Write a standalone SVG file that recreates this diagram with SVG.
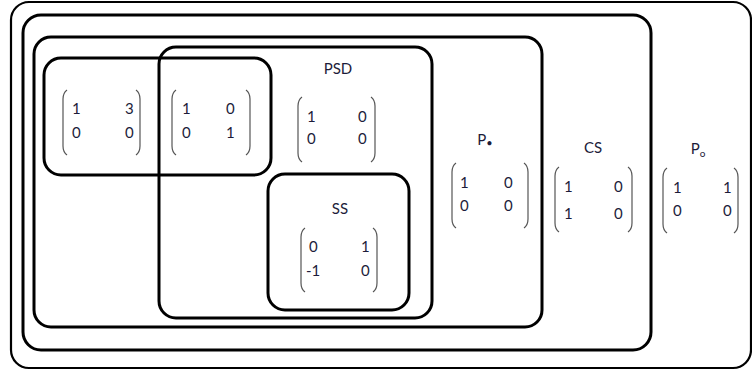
<svg xmlns="http://www.w3.org/2000/svg" width="752" height="372" viewBox="0 0 752 372">
<style>
.box{fill:none;stroke:#000;stroke-width:3}
.thin{fill:none;stroke:#000;stroke-width:2.2}
.br{fill:none;stroke:#555;stroke-width:1.2}
text{font-family:Lato,"Open Sans","Liberation Sans",sans-serif;font-size:15px;fill:#1c1c3a}
.lab{text-anchor:middle}
</style>
<rect width="752" height="372" fill="#fff"/>
<g id="outer"><rect class="thin" x="11" y="2" width="740" height="366" rx="18"/></g>
<g id="level2"><rect class="box" x="23" y="15" width="628" height="335" rx="18"/></g>
<g id="level3"><rect class="box" x="34" y="37" width="508" height="290" rx="17"/></g>
<g id="psd"><rect class="box" x="159" y="47" width="273" height="271" rx="17"/>
<text class="lab" x="338" y="74">PSD</text>
<path class="br" d="M302,97 Q298,100 298,106 L298,153 Q298,159 302,162 M371,97 Q375,100 375,106 L375,153 Q375,159 371,162"/>
<text x="307" y="122">1</text><text x="358" y="122">0</text>
<text x="307" y="144">0</text><text x="358" y="144">0</text>
</g>
<g id="topbox"><rect class="box" x="44" y="58" width="227" height="117" rx="17"/>
<path class="br" d="M67,90 Q63,93 63,99 L63,146 Q63,152 67,155 M136,90 Q140,93 140,99 L140,146 Q140,152 136,155"/>
<text x="72" y="114">1</text><text x="125" y="114">3</text>
<text x="72" y="138">0</text><text x="125" y="138">0</text>
<path class="br" d="M176,90 Q172,93 172,99 L172,146 Q172,152 176,155 M246,90 Q250,93 250,99 L250,146 Q250,152 246,155"/>
<text x="182" y="114">1</text><text x="226" y="114">0</text>
<text x="182" y="138">0</text><text x="226" y="138">1</text>
</g>
<g id="ss"><rect class="box" x="268" y="174" width="141" height="136" rx="17"/>
<text class="lab" x="340" y="214">SS</text>
<path class="br" d="M305,228 Q301,231 301,237 L301,283 Q301,289 305,292 M373,228 Q377,231 377,237 L377,283 Q377,289 373,292"/>
<text x="309" y="252">0</text><text x="361" y="252">1</text>
<text x="306" y="276">-1</text><text x="361" y="276">0</text>
</g>
<g id="pdot">
<text class="lab" x="485" y="145">P<tspan font-size="11" dy="2">•</tspan></text>
<path class="br" d="M456,163 Q452,166 452,172 L452,219 Q452,225 456,228 M524,163 Q528,166 528,172 L528,219 Q528,225 524,228"/>
<text x="460" y="188">1</text><text x="504" y="188">0</text>
<text x="460" y="211">0</text><text x="504" y="211">0</text>
</g>
<g id="cs">
<text class="lab" x="593" y="153">CS</text>
<path class="br" d="M559,167 Q555,170 555,176 L555,223 Q555,229 559,232 M628,167 Q632,170 632,176 L632,223 Q632,229 628,232"/>
<text x="564" y="192">1</text><text x="614" y="192">0</text>
<text x="564" y="219">1</text><text x="614" y="219">0</text>
</g>
<g id="pzero">
<text class="lab" x="698" y="154">P<tspan font-size="10" dy="3">o</tspan></text>
<path class="br" d="M667,168 Q663,171 663,177 L663,224 Q663,230 667,233 M734,168 Q738,171 738,177 L738,224 Q738,230 734,233"/>
<text x="673" y="193">1</text><text x="723" y="193">1</text>
<text x="673" y="216">0</text><text x="723" y="216">0</text>
</g>
<g id="connectors"></g>
</svg>
